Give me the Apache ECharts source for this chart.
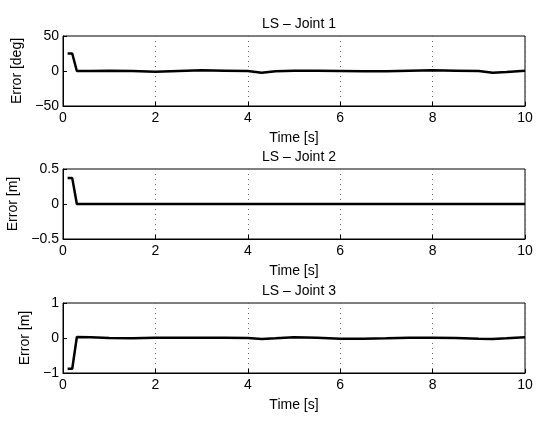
<!DOCTYPE html>
<html>
<head>
<meta charset="utf-8">
<script src="https://cdn.jsdelivr.net/npm/echarts@6/dist/echarts.min.js"></script>
<style>
    html, body { margin: 0; padding: 0; background: #fff; }
    #chart { width: 550px; height: 426px; }
</style>
</head>
<body>
<div id="chart"></div>
<script>
// sample times [s]
const time = [0.1, 0.2, 0.3, 0.6, 1.0, 1.5, 2.0, 2.5, 3.0, 3.5, 4.0, 4.3, 4.6, 5.0, 5.5, 6.0, 6.5, 7.0, 7.5, 8.0, 8.5, 9.0, 9.3, 9.6, 10.0];
// joint errors
const joint1 = [25, 25, 0, 0, 0.5, 0, -1, 0, 1, 0.5, 0, -2.5, -0.5, 0.5, 0.5, 0, -0.5, -0.5, 0.5, 1, 0.5, 0, -2.5, -1.5, 0.5];
const joint2 = [0.37, 0.37, 0, 0, 0, 0, 0, 0, 0, 0, 0, 0, 0, 0, 0, 0, 0, 0, 0, 0, 0, 0, 0, 0, 0];
const joint3 = [-0.88, -0.88, 0.03, 0.02, 0, -0.01, 0.01, 0.01, 0.01, 0.01, 0, -0.03, -0.01, 0.02, 0.01, -0.02, -0.02, -0.01, 0.01, 0.01, 0, -0.02, -0.03, -0.01, 0.02];

const titles = ['LS \u2013 Joint 1', 'LS \u2013 Joint 2', 'LS \u2013 Joint 3'];
const yNames = ['Error [deg]', 'Error [m]', 'Error [m]'];
const yRanges = [[-50, 50, 50], [-0.5, 0.5, 0.5], [-1, 1, 1]];

const tops = [36, 169, 303];
const titleTops = [12, 145, 279];
const nameGaps = [37, 38, 27];
const series = [joint1, joint2, joint3];

const font = 'Liberation Sans, Arial, sans-serif';
const minus = v => String(v).replace('-', '\u2212');

const option = {
    animation: false,
    backgroundColor: '#fff',
    title: titles.map((t, i) => ({
        text: t,
        left: 294,
        top: titleTops[i],
        textAlign: 'center',
        textStyle: { fontFamily: font, fontSize: 14, fontWeight: 'normal', color: '#000' }
    })),
    grid: tops.map(t => ({
        left: 63, right: 25, top: t, height: 70,
        containLabel: false, outerBoundsMode: 'none',
        show: true, borderColor: '#000', borderWidth: 1, backgroundColor: 'transparent'
    })),
    xAxis: tops.map((t, i) => ({
        type: 'value',
        gridIndex: i,
        min: 0, max: 10, interval: 2,
        name: 'Time [s]',
        nameLocation: 'middle',
        nameGap: 25,
        nameTextStyle: { fontFamily: font, fontSize: 14, color: '#000' },
        axisLine: { show: true, onZero: false, lineStyle: { color: '#000', width: 1 } },
        axisTick: { show: true, inside: true, length: 4, lineStyle: { color: '#000' } },
        axisLabel: { fontFamily: font, fontSize: 14, color: '#000', margin: 5 },
        splitLine: { show: true, lineStyle: { color: '#666', type: [1, 4], width: 1 } }
    })),
    yAxis: yRanges.map((r, i) => ({
        type: 'value',
        gridIndex: i,
        min: r[0], max: r[1], interval: r[2],
        name: yNames[i],
        nameLocation: 'middle',
        nameGap: nameGaps[i],
        nameTextStyle: { fontFamily: font, fontSize: 14, color: '#000' },
        axisLine: { show: true, lineStyle: { color: '#000', width: 1 } },
        axisTick: { show: true, inside: true, length: 4, lineStyle: { color: '#000' } },
        axisLabel: { fontFamily: font, fontSize: 14, color: '#000', margin: 4, formatter: minus },
        splitLine: { show: false }
    })),
    series: series.map((d, i) => ({
        type: 'line',
        xAxisIndex: i,
        yAxisIndex: i,
        data: time.map((t, k) => [t, d[k]]),
        showSymbol: false,
        lineStyle: { color: '#000', width: 2.5 }
    }))
};

const chart = echarts.init(document.getElementById('chart'), null, { renderer: 'canvas' });
chart.setOption(option);
</script>
</body>
</html>
